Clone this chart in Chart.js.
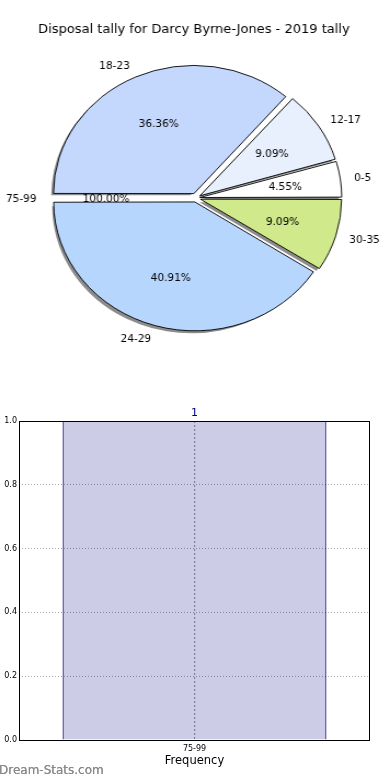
<!DOCTYPE html>
<html lang="en">
<head>
<meta charset="UTF-8">
<title>Disposal tally</title>
<script src="https://cdn.jsdelivr.net/npm/chart.js"></script>
<style>
  body { margin: 0; background: #fff; font-family: "DejaVu Sans", sans-serif; }
  #page { position: relative; width: 390px; height: 780px; overflow: hidden; }
  /* pie is drawn as an ellipse: canvas stretched sideways, text un-stretched in the plugin */
  #pieBox { position: absolute; left: 0; top: 0; width: 356px; height: 360px; transform: scaleX(1.0955); transform-origin: 0 0; }
  #barBox { position: absolute; left: 0; top: 380px; width: 390px; height: 400px; }
  #mark { position: absolute; left: -1px; top: 763px; font-size: 12px; color: #8a8a8a; text-shadow: 0 0 0.6px #8a8a8a; }
</style>
</head>
<body>
<div id="page">
  <div id="pieBox"><canvas id="pie" width="356" height="360"></canvas></div>
  <div id="barBox"><canvas id="bar" width="390" height="400"></canvas></div>
  <div id="mark">Dream-Stats.com</div>
</div>
<script>
const chartTitle = "Disposal tally for Darcy Byrne-Jones - 2019 tally";

// pie slices, listed clockwise starting at 3 o'clock
const pieLabels = ["30-35", "24-29", "75-99", "18-23", "12-17", "0-5"];
const pieCounts = [2, 9, 0, 8, 2, 1];
const piePct = ["9.09%", "40.91%", "100.00%", "36.36%", "9.09%", "4.55%"];
const pieColors = ["#cfe98b", "#b7d6fe", "#ffffff", "#c4d8fe", "#e8f0fe", "#ffffff"];

// frequency bars
const barLabels = ["75-99"];
const barValues = [1];
const yTicks = [0, 0.2, 0.4, 0.6, 0.8, 1.0];

const SX = 356 / 390;   // undo the canvas stretch when writing text
const EXPLODE = 6;
const R = 127;

function txt(ctx, s, x, y, align) {
    ctx.save();
    ctx.translate(x, y + 1);
    ctx.scale(SX, 1);
    ctx.textAlign = align;
    ctx.textBaseline = "middle";
    ctx.fillText(s, 0, 0);
    ctx.restore();
}

const pieDeco = {
    id: "pieDeco",
    beforeDatasetsDraw(chart) {
        const ctx = chart.ctx;
        const arcs = chart.getDatasetMeta(0).data;
        ctx.save();
        ctx.fillStyle = "rgba(0,0,0,0.45)";
        arcs.forEach(a => {
            if (a.endAngle - a.startAngle <= 0) return;
            const mid = (a.startAngle + a.endAngle) / 2;
            const cx = a.x + Math.cos(mid) * EXPLODE - 2.7;
            const cy = a.y + Math.sin(mid) * EXPLODE + 2.6;
            ctx.beginPath();
            ctx.moveTo(cx, cy);
            ctx.arc(cx, cy, a.outerRadius, a.startAngle, a.endAngle);
            ctx.closePath();
            ctx.fill();
        });
        ctx.restore();
    },
    afterDatasetsDraw(chart) {
        const ctx = chart.ctx;
        const arcs = chart.getDatasetMeta(0).data;
        ctx.save();
        ctx.fillStyle = "#000";
        ctx.font = "13px 'DejaVu Sans'";
        txt(ctx, chartTitle, 177, 29, "center");
        ctx.font = "10.5px 'DejaVu Sans'";
        arcs.forEach((a, i) => {
            const mid = (a.startAngle + a.endAngle) / 2;
            const dx = Math.cos(mid), dy = Math.sin(mid);
            const lr = EXPLODE + 1.1 * a.outerRadius;
            const pr = EXPLODE + 0.6 * a.outerRadius;
            txt(ctx, pieLabels[i], a.x + dx * lr, a.y + dy * lr, dx < 0 ? "right" : "left");
            txt(ctx, piePct[i], a.x + dx * pr, a.y + dy * pr, "center");
        });
        ctx.restore();
    }
};

new Chart(document.getElementById("pie"), {
    type: "pie",
    data: {
        labels: pieLabels,
        datasets: [{
            data: pieCounts,
            backgroundColor: pieColors,
            borderColor: "#000",
            borderWidth: 0.9,
            borderJoinStyle: "miter",
            // chart.js shrinks the offset for wide slices, so scale it back to ~EXPLODE px
            offset: c => {
                const total = pieCounts.reduce((s, v) => s + v, 0);
                const ang = 2 * Math.PI * pieCounts[c.dataIndex] / total;
                const fix = 1 - Math.sin(Math.min(Math.PI, ang));
                return EXPLODE * 4 / (1 + fix);
            }
        }]
    },
    options: {
        responsive: false,
        animation: false,
        rotation: 90,
        radius: R,
        layout: { padding: { left: 2, right: 0, top: 36, bottom: 0 } },
        plugins: { legend: { display: false }, title: { display: false }, tooltip: { enabled: false } }
    },
    plugins: [pieDeco]
});

const frameAndLabels = {
    id: "frameAndLabels",
    afterDatasetsDraw(chart) {
        const { ctx, chartArea: a } = chart;
        ctx.save();
        ctx.strokeStyle = "#000";
        ctx.lineWidth = 1;
        ctx.strokeRect(a.left + 0.5, a.top + 0.5, a.right - a.left - 1, a.bottom - a.top);
        ctx.fillStyle = "#000080";
        ctx.font = "11px 'DejaVu Sans'";
        ctx.textAlign = "center";
        ctx.textBaseline = "bottom";
        chart.getDatasetMeta(0).data.forEach((b, i) => {
            ctx.fillText(String(barValues[i]), b.x, b.y - 2);
        });
        ctx.restore();
    }
};

new Chart(document.getElementById("bar"), {
    type: "bar",
    data: {
        labels: barLabels,
        datasets: [{
            data: barValues,
            backgroundColor: "rgba(0,0,128,0.2)",
            borderColor: "#000080",
            borderWidth: 1,
            categoryPercentage: 1,
            barPercentage: 0.752
        }]
    },
    options: {
        responsive: false,
        animation: false,
        layout: { padding: { left: 0, right: 20, top: 41, bottom: 0 } },
        plugins: { legend: { display: false }, tooltip: { enabled: false } },
        scales: {
            x: {
                grid: { offset: false, drawTicks: false, color: "#a0a0a0", lineWidth: 1.2 },
                border: { display: false, dash: [2, 2] },
                ticks: { color: "#000", font: { family: "DejaVu Sans", size: 8 }, padding: 4 },
                title: { display: true, text: "Frequency", color: "#000", font: { family: "DejaVu Sans", size: 11.5 }, padding: { top: 0, bottom: 12 } },
                afterFit: s => { s.height = 40; }
            },
            y: {
                min: 0,
                max: 1,
                afterBuildTicks: s => { s.ticks = yTicks.map(v => ({ value: v })); },
                grid: { drawTicks: false, color: "#a8a8a8" },
                border: { display: false, dash: [1, 2] },
                ticks: { color: "#000", font: { family: "DejaVu Sans", size: 8 }, padding: 2, callback: v => v.toFixed(1) },
                afterFit: s => { s.width = 19; }
            }
        }
    },
    plugins: [frameAndLabels]
});
</script>
</body>
</html>
